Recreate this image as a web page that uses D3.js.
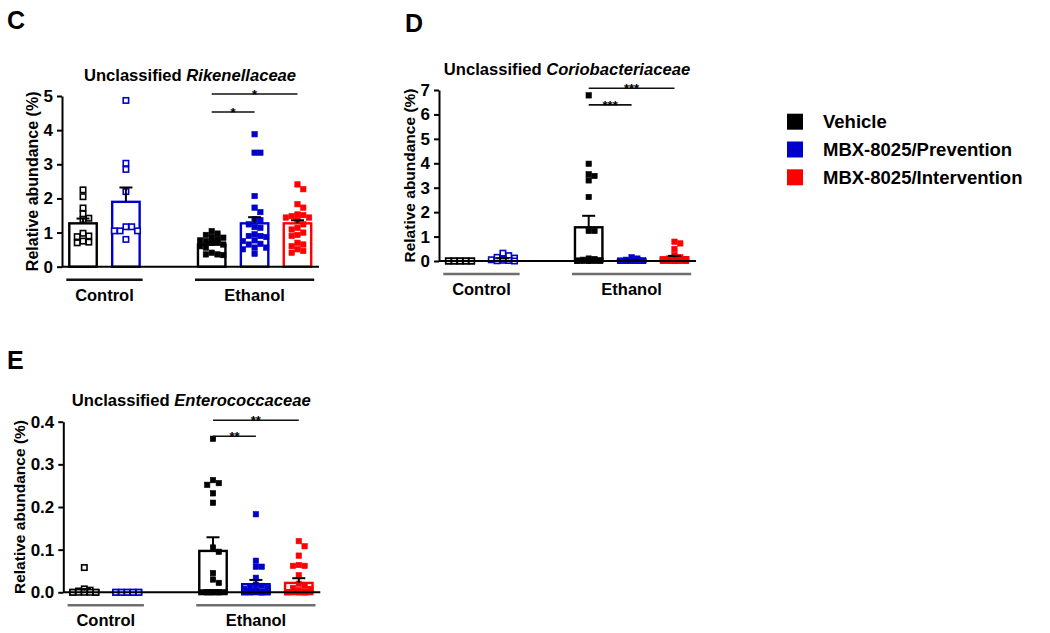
<!DOCTYPE html>
<html><head><meta charset="utf-8">
<script src="https://cdn.jsdelivr.net/npm/d3@7"></script>
<style>
html,body{margin:0;padding:0;background:#fff;}
text{font-family:"Liberation Sans",Arial,Helvetica,sans-serif;font-weight:bold;}
</style></head>
<body>
<svg id="chart" width="1050" height="633"></svg>
<script>
// ---------- data ----------
const seriesNames = ["Vehicle", "MBX-8025/Prevention", "MBX-8025/Intervention"];
const seriesColors = ["#000000", "#0000cc", "#ff0000"];
const groupNames = ["Control", "Ethanol"];
// slots: Control-Vehicle, Control-Prevention, (gap), Ethanol-Vehicle, Ethanol-Prevention, Ethanol-Intervention
const slotKeys = ["C-V", "C-P", "gap", "E-V", "E-P", "E-I"];
const slotSeries = [0, 1, null, 0, 1, 2];

// Panel C: Unclassified Rikenellaceae
const cTicks = [0, 1, 2, 3, 4, 5];
const cMeans = [1.27, 1.90, 0.65, 1.27, 1.27];
const cSems = [0.14, 0.42, 0.05, 0.18, 0.09];
const cPoints = [
  [2.25, 2.05, 1.72, 1.55, 1.42, 1.38, 0.98, 0.90, 0.88, 0.75, 0.72, 0.70],
  [4.87, 3.03, 2.85, 2.20, 1.17, 1.17, 1.05, 1.05, 1.05, 0.80],
  [1.04, 0.97, 0.93, 0.87, 0.85, 0.80, 0.77, 0.75, 0.72, 0.71, 0.70, 0.65, 0.60, 0.56, 0.41, 0.36, 0.36, 0.34],
  [3.88, 3.34, 3.34, 2.07, 1.73, 1.60, 1.39, 1.36, 1.24, 1.16, 1.14, 0.95, 0.90, 0.90, 0.87, 0.77, 0.75, 0.67, 0.65, 0.56, 0.56, 0.51, 0.38],
  [2.41, 2.27, 1.83, 1.73, 1.53, 1.51, 1.48, 1.44, 1.44, 1.36, 1.24, 1.14, 1.09, 1.00, 0.93, 0.90, 0.70, 0.65, 0.60, 0.51, 0.46, 0.41]
];
const cSig = [["E-V", "E-I", 5.06, "*"], ["E-V", "E-P", 4.53, "*"]];

// Panel D: Unclassified Coriobacteriaceae
const dTicks = [0, 1, 2, 3, 4, 5, 6, 7];
const dMeans = [0.0, 0.08, 1.38, 0.03, 0.15];
const dSems = [0.0, 0.03, 0.47, 0.01, 0.06];
const dPoints = [
  [0, 0, 0, 0, 0, 0, 0, 0, 0, 0],
  [0.32, 0.22, 0.15, 0.12, 0.08, 0.05, 0.03, 0.02, 0.01, 0],
  [6.78, 3.98, 3.55, 3.48, 3.30, 2.62, 1.23, 1.23, 0.10, 0.08, 0.05, 0.03, 0.02, 0.01, 0, 0, 0, 0, 0],
  [0.15, 0.10, 0.05, 0.03, 0.02, 0.01, 0, 0, 0, 0, 0, 0, 0, 0, 0, 0, 0, 0, 0],
  [0.79, 0.72, 0.49, 0.25, 0.15, 0.10, 0.08, 0.05, 0.03, 0.02, 0.01, 0, 0, 0, 0, 0, 0, 0, 0, 0]
];
const dSig = [["E-V", "E-I", 7.07, "***"], ["E-V", "E-P", 6.39, "***"]];

// Panel E: Unclassified Enterococcaceae
const eTicks = [0, 0.1, 0.2, 0.3, 0.4];
const eMeans = [0.004, 0.0, 0.097, 0.019, 0.022];
const eSems = [0.004, 0.0, 0.032, 0.010, 0.011];
const ePoints = [
  [0.058, 0.008, 0.005, 0.003, 0, 0, 0, 0, 0, 0, 0],
  [0, 0, 0, 0, 0, 0, 0, 0, 0, 0],
  [0.36, 0.263, 0.256, 0.252, 0.232, 0.21, 0.105, 0.095, 0.045, 0.03, 0.022, 0, 0, 0, 0, 0, 0, 0, 0],
  [0.183, 0.074, 0.06, 0.06, 0.034, 0.018, 0.015, 0.012, 0.01, 0.008, 0.005, 0.003, 0, 0, 0, 0, 0, 0, 0, 0, 0, 0],
  [0.12, 0.108, 0.086, 0.064, 0.062, 0.062, 0.04, 0.02, 0.015, 0.01, 0.008, 0.005, 0, 0, 0, 0, 0, 0, 0, 0, 0]
];
const eSig = [["E-V", "E-I", 0.4035, "**"], ["E-V", "E-P", 0.366, "**"]];

// ---------- panels (layout) ----------
const panels = [
  {letter: "C", lx: 7, ly: 28.5, family: "Rikenellaceae", ax: 62, y0: 266.7, yTop: 96, ticks: cTicks, fmt: d3.format("d"),
   means: cMeans, sems: cSems, points: cPoints, sig: cSig, underline: "#111", ylab: 16, ylabOff: 30},
  {letter: "D", lx: 405, ly: 31.5, family: "Coriobacteriaceae", ax: 439, y0: 261, yTop: 90, ticks: dTicks, fmt: d3.format("d"),
   means: dMeans, sems: dSems, points: dPoints, sig: dSig, underline: "#6e6e6e", ylab: 15.5, ylabOff: 30},
  {letter: "E", lx: 7, ly: 369, family: "Enterococcaceae", ax: 63.3, y0: 592.3, yTop: 421.7, ticks: eTicks, fmt: d3.format(".1f"),
   means: eMeans, sems: eSems, points: ePoints, sig: eSig, underline: "#6e6e6e", ylab: 15.5, ylabOff: 44}
];

const svg = d3.select("#chart");
const plotW = 257;
const ptSize = 5.4;

function swarm(values, yScale, size, hw) {
  const placed = [];
  const order = values.map((v, i) => i).sort((a, b) => values[b] - values[a]);
  const cands = [0];
  for (let k = 1; k * size <= hw; k++) { cands.push(k * size, -k * size); }
  for (let k = 0; (k + 0.5) * size <= hw + size * 0.5; k++) { cands.push((k + 0.5) * size, -(k + 0.5) * size); }
  const res = new Array(values.length);
  order.forEach(i => {
    const py = yScale(values[i]);
    let best = null, bestC = Infinity;
    for (const off of cands) {
      let c = 0;
      for (const p of placed) { if (Math.abs(p.x - off) < size * 0.98 && Math.abs(p.y - py) < size * 0.98) c++; }
      if (c < bestC) { bestC = c; best = off; }
      if (c === 0) break;
    }
    const o = {x: best, y: py};
    placed.push(o);
    res[i] = o;
  });
  return res;
}

panels.forEach(P => {
  const g = svg.append("g");
  const y = d3.scaleLinear().domain([P.ticks[0], P.ticks[P.ticks.length - 1]]).range([P.y0, P.yTop]);
  const x = d3.scaleBand().domain(slotKeys).range([P.ax, P.ax + 256.5]).paddingInner(0.36).paddingOuter(0.17);
  const bw = x.bandwidth();

  // panel letter
  g.append("text").attr("x", P.lx).attr("y", P.ly).attr("font-size", 25).text(P.letter);

  // title
  const t = g.append("text").attr("x", P.ax + 128).attr("y", P.yTop - 15.5)
    .attr("text-anchor", "middle").attr("font-size", 16.6);
  t.append("tspan").text("Unclassified ");
  t.append("tspan").attr("font-style", "italic").text(P.family);

  // y label
  g.append("text").attr("transform", `translate(${P.ax - P.ylabOff},${(P.y0 + P.yTop) / 2}) rotate(-90)`)
    .attr("text-anchor", "middle").attr("dy", "0.36em").attr("font-size", P.ylab).text("Relative abundance (%)");

  // y axis
  const yAxis = d3.axisLeft(y).tickValues(P.ticks).tickFormat(P.fmt).tickSize(5).tickSizeOuter(0).tickPadding(4);
  const ag = g.append("g").attr("transform", `translate(${P.ax},0)`).call(yAxis);
  ag.select(".domain").attr("stroke", "#000").attr("stroke-width", 2);
  ag.selectAll(".tick line").attr("stroke", "#000").attr("stroke-width", 2);
  ag.selectAll(".tick text").attr("font-size", 17).attr("fill", "#000")
    .style("font-family", '"Liberation Sans",Arial,sans-serif').style("font-weight", "bold");

  // bars
  const barSlots = slotKeys.filter(k => k !== "gap");
  barSlots.forEach((k, i) => {
    const col = seriesColors[slotSeries[slotKeys.indexOf(k)]];
    g.append("rect").attr("x", x(k)).attr("y", y(P.means[i]))
      .attr("width", bw).attr("height", Math.max(0, P.y0 - y(P.means[i])))
      .attr("fill", "#fff").attr("stroke", col).attr("stroke-width", 2.4);
  });

  // points
  barSlots.forEach((k, i) => {
    const col = seriesColors[slotSeries[slotKeys.indexOf(k)]];
    const open = k.startsWith("C");
    const cx = x(k) + bw / 2;
    const pos = swarm(P.points[i], y, ptSize + 0.4, bw / 2 + 1);
    pos.forEach(p => {
      g.append("rect")
        .attr("x", cx + p.x - ptSize / 2).attr("y", p.y - ptSize / 2)
        .attr("width", ptSize).attr("height", ptSize)
        .attr("fill", open ? "#fff" : col)
        .attr("stroke", col).attr("stroke-width", open ? 1.6 : 0.6);
    });
  });

  // error bars
  barSlots.forEach((k, i) => {
    if (P.sems[i] <= 0) return;
    const cx = x(k) + bw / 2;
    const y1 = y(P.means[i]), y2 = y(P.means[i] + P.sems[i]);
    g.append("line").attr("x1", cx).attr("x2", cx).attr("y1", y1).attr("y2", y2)
      .attr("stroke", "#000").attr("stroke-width", 2);
    g.append("line").attr("x1", cx - 6.5).attr("x2", cx + 6.5).attr("y1", y2).attr("y2", y2)
      .attr("stroke", "#000").attr("stroke-width", 2);
  });

  // x baseline
  g.append("line").attr("x1", P.ax).attr("x2", P.ax + plotW).attr("y1", P.y0).attr("y2", P.y0)
    .attr("stroke", "#000").attr("stroke-width", 2);

  // group underlines and labels
  const groupsDef = [["C-V", "C-P"], ["E-V", "E-I"]];
  groupsDef.forEach((gd, gi) => {
    const x1 = x(gd[0]) - 3, x2 = x(gd[1]) + bw + 3;
    g.append("line").attr("x1", x1).attr("x2", x2).attr("y1", P.y0 + 13).attr("y2", P.y0 + 13)
      .attr("stroke", P.underline).attr("stroke-width", 2.4);
    g.append("text").attr("x", (x1 + x2) / 2).attr("y", P.y0 + 34)
      .attr("text-anchor", "middle").attr("font-size", 16.5).text(groupNames[gi]);
  });

  // significance
  P.sig.forEach(s => {
    const x1 = x(s[0]) + bw / 2, x2 = x(s[1]) + bw / 2;
    const yy = y(s[2]);
    g.append("line").attr("x1", x1).attr("x2", x2).attr("y1", yy).attr("y2", yy)
      .attr("stroke", "#111").attr("stroke-width", 1.6);
    g.append("text").attr("x", (x1 + x2) / 2).attr("y", yy + 5)
      .attr("text-anchor", "middle").attr("font-size", 13).text(s[3]);
  });
});

// legend
const leg = svg.append("g");
const legY = d3.scalePoint().domain(seriesNames).range([121.7, 177.3]);
seriesNames.forEach((n, i) => {
  leg.append("rect").attr("x", 787).attr("y", legY(n) - 8).attr("width", 16).attr("height", 16).attr("fill", seriesColors[i]);
  leg.append("text").attr("x", 823).attr("y", legY(n) + 6.6).attr("font-size", 18.5).text(n);
});
</script>
</body></html>
